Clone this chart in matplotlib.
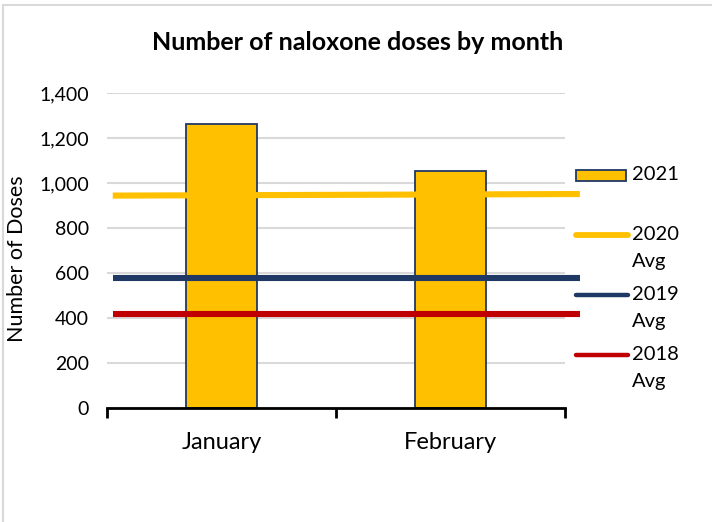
import matplotlib.pyplot as plt
from matplotlib.patches import Rectangle
from matplotlib.lines import Line2D
from matplotlib.ticker import FuncFormatter, FixedLocator

plt.rcParams['font.family'] = ['Lato', 'DejaVu Sans']

# data
months = ['January', 'February']
doses_2021 = [1262, 1055]
avg_2020 = [944, 951]
avg_2019 = [577, 577]
avg_2018 = [416, 416]
legend_labels = ['2021', '2020\nAvg', '2019\nAvg', '2018\nAvg']

gold = '#FFC000'
navy = '#203864'
red = '#C00000'

fig = plt.figure(figsize=(7.12, 5.22), dpi=100)
ax = fig.add_axes([107 / 712, 1 - 408 / 522, (565 - 107) / 712, (408 - 93) / 522])

x = list(range(len(months)))
ax.bar(x, doses_2021, width=0.31, color=gold, edgecolor=navy, linewidth=1.3,
       zorder=3)

# average lines run a bit past the category band, as in the original
line_x = [x[0] - 0.475, x[-1] + 0.565]
line_series = [(avg_2020, gold), (avg_2019, navy), (avg_2018, red)]
for vals, col in line_series:
    ax.plot(line_x, vals, color=col, lw=4.4, solid_capstyle='butt',
            zorder=4, clip_on=False)

ax.set_xlim(-0.5, 1.5)
ax.set_ylim(0, 1400)
ax.set_yticks(range(0, 1401, 200))
ax.yaxis.set_major_formatter(FuncFormatter(lambda v, p: f'{int(v):,}'))
ax.grid(axis='y', color='#D9D9D9', lw=1.5, zorder=0)
ax.tick_params(axis='y', length=0, labelsize=14, pad=13)

ax.set_xticks(x)
ax.set_xticklabels(months, fontsize=17)
ax.xaxis.set_minor_locator(FixedLocator([-0.5, 0.5, 1.5]))
ax.tick_params(axis='x', which='major', length=0, pad=17)
ax.tick_params(axis='x', which='minor', length=7, width=2, color='black')

for s in ['top', 'right', 'left']:
    ax.spines[s].set_visible(False)
ax.spines['bottom'].set_linewidth(2)
ax.spines['bottom'].set_zorder(5)

ax.set_ylabel('Number of Doses', fontsize=15.5)
ax.yaxis.set_label_coords(-0.175, 0.473)

fig.text(358 / 712, 1 - 42 / 522, 'Number of naloxone doses by month',
         ha='center', va='center', fontsize=18, fontweight='bold')

# legend drawn by hand so the key sits beside the first line of each label
def fx(px):
    return px / 712

def fy(py):
    return 1 - py / 522

leg_y = [175, 235, 295, 355]
fig.patches.append(Rectangle((fx(576), fy(181)), fx(50), 11 / 522,
                             transform=fig.transFigure, facecolor=gold,
                             edgecolor=navy, lw=1.3))
for (vals, col), yy in zip(line_series, leg_y[1:]):
    fig.lines.append(Line2D([fx(576), fx(628)], [fy(yy), fy(yy)],
                            transform=fig.transFigure, color=col,
                            lw=3.2 if col != gold else 4.2,
                            solid_capstyle='round'))
for lab, yy in zip(legend_labels, leg_y):
    fig.text(fx(632), fy(yy - 9), lab, ha='left', va='top',
             fontsize=14.5, linespacing=1.7)

# chart area border
fig.patches.append(Rectangle((3 / 712, -0.1), 1.2, 1 - 5 / 522 + 0.1,
                             transform=fig.transFigure, fill=False,
                             edgecolor='#D9D9D9', lw=1.5))

fig.savefig('out.png', dpi=100)
